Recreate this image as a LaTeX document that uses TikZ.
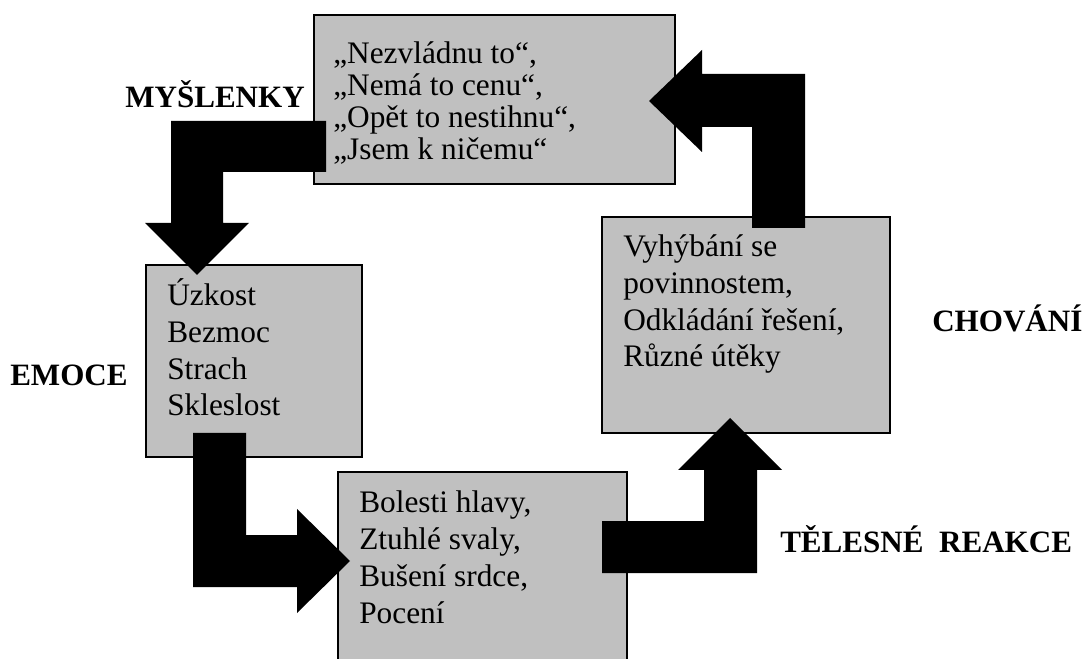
\documentclass[tikz,border=0pt]{standalone}
\usepackage{fontspec}
\setmainfont{Liberation Serif}
\usetikzlibrary{fit}
\tikzset{
  box/.style={draw=black, line width=1pt, fill=boxgray, inner sep=0pt},
  blockarrow/.style={fill=black, draw=none},
  boxtext/.style={anchor=base west, align=left, inner sep=0pt, font=\fontsize{23.5}{27.6}\selectfont},
  thinktext/.style={anchor=base west, align=left, inner sep=0pt, font=\fontsize{23.5}{24.2}\selectfont},
  lbl/.style={anchor=base west, inner sep=0pt, font=\fontsize{23.3}{27}\selectfont\bfseries}
}
\definecolor{boxgray}{RGB}{192,192,192}
\begin{document}
\begin{tikzpicture}[x=0.75pt,y=-0.75pt]
\clip (0,0) rectangle (1090,659);
\fill[white] (0,0) rectangle (1090,659);
% boxes
\node[box, fit={(314,15) (675,184)}] (think) {};
\node[box, fit={(146,265) (362,457)}] (emo) {};
\node[box, fit={(602,217) (890,433)}] (beh) {};
\node[box, fit={(338,472) (627,690)}] (body) {};
% block arrows
\fill[blockarrow] (326,121) -- (171,121) -- (171,223) -- (145,223) -- (197,275) -- (249,223) -- (223,223) -- (223,172) -- (326,172) -- cycle;
\fill[blockarrow] (193,433) -- (193,587) -- (297,587) -- (297,613) -- (350,561) -- (297,509) -- (297,535) -- (246,535) -- (246,433) -- cycle;
\fill[blockarrow] (602,521) -- (704,521) -- (704,470) -- (678,470) -- (730,418) -- (782,470) -- (757,470) -- (757,573) -- (602,573) -- cycle;
\fill[blockarrow] (752,228) -- (752,127) -- (702,127) -- (702,152) -- (649,101) -- (702,50) -- (702,74) -- (805,74) -- (805,228) -- cycle;
% box texts
\node[thinktext] (thinkt) at (333,160) {„Nezvládnu to“,\\„Nemá to cenu“,\\„Opět to nestihnu“,\\„Jsem k ničemu“};
\node[boxtext] (emot) at (167,416) {Úzkost\\Bezmoc\\Strach\\Skleslost};
\node[boxtext] (beht) at (623,367) {Vyhýbání se\\povinnostem,\\Odkládání řešení,\\Různé útěky};
\node[boxtext] (bodyt) at (359,623) {Bolesti hlavy,\\Ztuhlé svaly,\\Bušení srdce,\\Pocení};
% labels
\node[lbl] (l1) at (125,108) {MYŠLENKY};
\node[lbl] (l2) at (10,386) {EMOCE};
\node[lbl] (l3) at (932,332) {CHOVÁNÍ};
\node[lbl] (l4) at (780,552) {TĚLESNÉ\ \ REAKCE};
\end{tikzpicture}
\end{document}
